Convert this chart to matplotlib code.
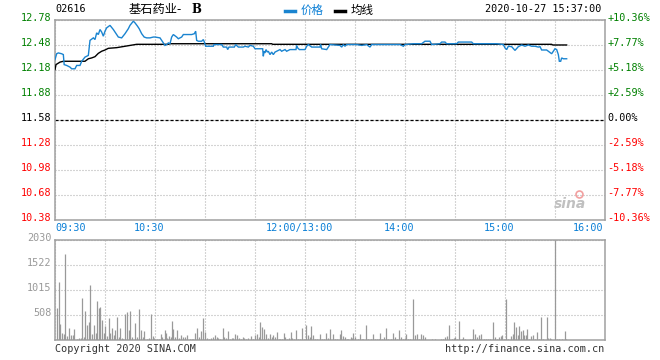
import matplotlib
matplotlib.use("Agg")
import matplotlib.pyplot as plt
import matplotlib.transforms as mtransforms
from matplotlib.lines import Line2D

plt.rcParams['lines.scale_dashes'] = False

# ---------------- data ----------------
stock_code = "02616"
stock_name = "基石药业-"
stock_suffix = "B"
timestamp = "2020-10-27 15:37:00"
legend_labels = ["价格", "均线"]

prev_close = 11.58
price_ticks = [10.38, 10.68, 10.98, 11.28, 11.58, 11.88, 12.18, 12.48, 12.78]
price_tick_labels = ["10.38", "10.68", "10.98", "11.28", "11.58", "11.88", "12.18", "12.48", "12.78"]
pct_tick_labels = ["-10.36%", "-7.77%", "-5.18%", "-2.59%", "0.00%", "+2.59%", "+5.18%", "+7.77%", "+10.36%"]

time_grid = [0, 30, 60, 90, 120, 150, 180, 210, 240, 270, 300, 330]
time_labels = ["09:30", "", "10:30", "", "", "12:00/13:00", "", "14:00", "", "15:00", "", "16:00"]

vol_ticks = [508, 1015, 1522, 2030]
vol_tick_labels = ["508", "1015", "1522", "2030"]

price_minutes = [0, 1, 2, 4, 5, 5.5, 7, 9, 10, 12, 13, 15, 16, 18, 20, 20.5, 21, 23, 24, 25, 26, 27, 28, 29,
                 30, 31, 33, 35, 37, 38, 40, 42, 44, 45, 47, 48, 49.5, 50.5, 52, 53.5, 55, 57, 59, 60, 63,
                 64, 65, 66, 67, 68, 69, 70, 71, 73, 74, 76, 77, 82, 83.6, 84.4, 85, 86, 88, 89, 89.6, 90.4,
                 95, 95.4, 100, 101, 103, 103.6, 104.4, 107.6, 108.4, 110, 113, 114, 116, 117, 119, 120,
                 124, 124.6, 125, 125.4, 126, 126.6, 127.4, 128, 129, 130, 131, 132, 133, 135, 136, 138,
                 139, 141, 144.6, 145, 145.6, 146.6, 150, 151, 152, 154, 159, 159.4, 160, 163, 164, 165,
                 171, 172, 173, 174, 175, 181, 184, 187, 189, 190, 207, 209, 210, 215, 220, 222, 225, 226,
                 231, 232, 234, 235, 241, 242, 250, 251, 265, 269, 270, 271, 272, 274, 276, 278, 280, 282,
                 284, 286, 288, 290, 291, 292, 295, 296, 298, 299, 300, 301, 302, 302.6, 303.4, 304, 305, 307]
price_values = [12.30, 12.37, 12.38, 12.37, 12.36, 12.24, 12.23, 12.21, 12.19, 12.19, 12.23, 12.23, 12.28,
                12.33, 12.35, 12.44, 12.53, 12.56, 12.54, 12.62, 12.60, 12.66, 12.63, 12.58, 12.64, 12.68,
                12.71, 12.66, 12.60, 12.57, 12.56, 12.61, 12.67, 12.71, 12.76, 12.74, 12.70, 12.67, 12.61,
                12.57, 12.56, 12.56, 12.57, 12.57, 12.56, 12.53, 12.50, 12.47, 12.48, 12.50, 12.49, 12.57,
                12.60, 12.57, 12.55, 12.57, 12.60, 12.60, 12.61, 12.64, 12.53, 12.52, 12.52, 12.54, 12.51,
                12.46, 12.46, 12.48, 12.48, 12.45, 12.45, 12.42, 12.45, 12.45, 12.48, 12.45, 12.45, 12.46,
                12.45, 12.47, 12.46, 12.43, 12.43, 12.43, 12.34, 12.40, 12.38, 12.42, 12.39, 12.40, 12.36,
                12.39, 12.36, 12.39, 12.40, 12.42, 12.40, 12.42, 12.40, 12.42, 12.42, 12.47, 12.44, 12.42,
                12.42, 12.46, 12.48, 12.45, 12.45, 12.48, 12.43, 12.42, 12.45, 12.48, 12.47, 12.45, 12.48,
                12.46, 12.48, 12.48, 12.47, 12.48, 12.45, 12.48, 12.48, 12.46, 12.48, 12.49, 12.49, 12.52,
                12.52, 12.48, 12.49, 12.51, 12.51, 12.49, 12.49, 12.51, 12.51, 12.49, 12.49, 12.48, 12.44,
                12.42, 12.46, 12.455, 12.41, 12.455, 12.475, 12.46, 12.475, 12.46, 12.46, 12.45, 12.455,
                12.415, 12.415, 12.40, 12.37, 12.40, 12.43, 12.42, 12.36, 12.28, 12.28, 12.32, 12.31, 12.31]

avg_minutes = [0, 0.6, 3, 5, 18, 20, 22, 24, 26, 28, 30, 32, 37, 43, 49, 68, 69, 130, 130.6, 298, 298.6, 307]
avg_values = [12.18, 12.24, 12.27, 12.28, 12.28, 12.31, 12.32, 12.335, 12.375, 12.40, 12.415, 12.435,
              12.443, 12.463, 12.483, 12.483, 12.49, 12.49, 12.483, 12.483, 12.475, 12.475]

vol_minutes = [1.4, 2.6, 3.2, 4.4, 5.4, 6.2, 7.4, 8.6, 9.4, 10.6, 11.6, 13.4, 14.6, 15.4, 16.4, 17.4, 18.2,
               19.4, 20.6, 21.2, 22.2, 23.4, 24.4, 25.4, 26.4, 27.0, 28.2, 29.4, 30.2, 31.4, 32.6, 33.0,
               34.2, 35.4, 36.2, 37.4, 38.2, 39.2, 40.2, 41.0, 42.2, 43.4, 44.6, 45.2, 46.4, 48.0, 49.0,
               50.6, 51.4, 52.6, 53.6, 55.4, 56.4, 57.4, 58.6, 59.4, 61.0, 62.2, 63.4, 64.4, 65.8, 66.4,
               67.4, 68.4, 69.4, 70.4, 71.0, 72.2, 73.4, 74.4, 75.4, 76.6, 77.8, 79.4, 81.0, 82.2, 83.0,
               84.2, 85.4, 86.6, 87.8, 89.0, 89.8, 91.0, 92.2, 93.8, 95.0, 96.0, 97.0, 97.8, 99.0, 100.6,
               101.4, 102.6, 103.8, 105.0, 106.0, 107.0, 108.2, 109.4, 110.6, 111.8, 112.6, 113.6, 114.6,
               115.8, 117.4, 119.0, 120.2, 121.4, 122.2, 123.2, 124.4, 125.4, 126.6, 127.8, 129.0, 130.0,
               131.0, 132.0, 133.0, 134.2, 135.0, 136.0, 137.2, 138.2, 139.0, 140.2, 141.4, 142.4, 143.4,
               144.6, 146.0, 147.0, 148.2, 149.4, 150.6, 152.0, 153.0, 153.8, 155.0, 156.2, 157.4, 159.0,
               160.2, 161.4, 162.6, 163.8, 165.0, 167.0, 168.0, 169.4, 171.0, 171.8, 173.0, 174.2, 175.0,
               176.0, 177.4, 178.2, 179.0, 180.0, 181.8, 183.0, 184.0, 185.0, 186.6, 188.0, 189.4, 191.0,
               192.2, 193.0, 194.2, 195.0, 196.2, 197.4, 198.8, 200.0, 201.4, 203.0, 204.2, 205.4, 206.4,
               207.4, 208.6, 209.8, 210.8, 212.0, 213.0, 215.0, 215.8, 217.0, 218.2, 219.8, 221.0, 221.8,
               226.0, 227.8, 231.8, 233.0, 234.2, 235.4, 236.6, 238.0, 239.4, 240.2, 241.2, 242.6, 244.0,
               245.0, 245.8, 249.0, 250.0, 251.0, 252.2, 253.4, 254.2, 255.0, 255.8, 257.4, 258.6, 259.8,
               261.0, 263.0, 264.2, 265.0, 266.2, 267.4, 268.2, 269.4, 270.6, 271.8, 273.4, 274.6, 275.6,
               276.6, 277.6, 278.6, 279.8, 280.6, 281.6, 282.6, 283.4, 284.6, 285.8, 286.6, 287.8, 289.0,
               290.2, 291.8, 293.0, 295.0, 296.0, 297.0, 297.8, 300.0, 301.0, 302.6, 304.2, 305.8, 306.6]
vol_values = [656, 1184, 325, 135, 122, 1746, 81, 244, 101, 101, 223, 14, 34, 47, 853, 68, 589,
              305, 365, 1117, 122, 298, 142, 792, 650, 670, 406, 135, 277, 81, 447, 149,
              244, 101, 203, 474, 68, 244, 41, 14, 528, 562, 203, 589, 54, 345, 54,
              629, 203, 68, 183, 27, 34, 528, 81, 34, 14, 27, 122, 54, 203, 135,
              34, 81, 54, 386, 223, 54, 210, 34, 95, 54, 68, 95, 20, 20, 27,
              135, 244, 68, 183, 447, 162, 41, 14, 34, 68, 108, 54, 34, 27, 244,
              54, 34, 189, 14, 34, 34, 122, 95, 41, 14, 68, 34, 27,
              41, 81, 14, 108, 122, 61, 372, 271, 217, 122, 34, 122, 68,
              95, 54, 156, 27, 27, 27, 135, 54, 27, 34, 169, 34, 27,
              203, 27, 27, 244, 27, 311, 108, 54, 277, 101, 27, 27, 122,
              14, 27, 135, 41, 217, 122, 27, 27, 115, 203, 81, 54, 27,
              27, 54, 34, 135, 54, 14, 122, 27, 27, 298, 14, 27, 122,
              27, 27, 27, 135, 27, 54, 244, 14, 27, 142, 54, 27, 196,
              54, 27, 41, 115, 27, 27, 832, 101, 115, 27, 115, 95, 54,
              14, 14, 14, 14, 54, 74, 298, 14, 34, 54, 27, 386, 27,
              54, 14, 14, 14, 223, 122, 54, 95, 27, 122, 14, 14, 14,
              14, 365, 54, 27, 68, 81, 108, 14, 832, 27, 81, 115, 365,
              271, 95, 277, 183, 203, 108, 95, 223, 27, 81, 108, 27, 162,
              27, 467, 27, 467, 41, 41, 27, 2030, 14, 14, 14, 183, 27]

# ---------------- styles ----------------
W, H = 660, 360
GRID = '#aaaaaa'
BORDER = '#a0a0a0'
GREEN = '#008000'
RED = '#ff0000'
BLUE_TXT = '#0a7fd6'
LINE_BLUE = '#1a84d0'
MONO = 'DejaVu Sans Mono'
CJK = ['Noto Sans CJK SC', 'DejaVu Sans']
dot = (0, (0.72, 1.44))

fig = plt.figure(figsize=(W / 100, H / 100), dpi=100)
fig.patch.set_facecolor('white')


def px_axes(left, top, right, bottom):
    return fig.add_axes([left / W, 1 - bottom / H, (right - left) / W, (bottom - top) / H])


ax = px_axes(55, 19.5, 605, 220)
axv = px_axes(55, 240, 605, 340)

for a in (ax, axv):
    a.set_xlim(0, 330)
    for s in a.spines.values():
        s.set_color(BORDER)
        s.set_linewidth(1.1)
    a.set_xticks(time_grid)
    a.tick_params(length=0)
    a.grid(True, color=GRID, linestyle=dot, linewidth=0.8)
    a.set_axisbelow(True)

# ---- price panel ----
ax.set_ylim(price_ticks[0], price_ticks[-1])
ax.set_yticks(price_ticks)
ax.set_yticklabels(price_tick_labels, fontfamily=MONO, fontsize=7.3)
ax.tick_params(axis='y', pad=2.5)
up = mtransforms.ScaledTranslation(0, 2 / 72 * 0.72 * 1.4, fig.dpi_scale_trans)
for v, lab in zip(price_ticks, ax.get_yticklabels()):
    lab.set_color(GREEN if v > prev_close else (RED if v < prev_close else 'black'))
    lab.set_transform(lab.get_transform() + up)

ax.set_xticklabels(time_labels, fontfamily=MONO, fontsize=7.3, color=BLUE_TXT)
ax.tick_params(axis='x', pad=2)
shift_l = mtransforms.ScaledTranslation(-6 / 100, 0, fig.dpi_scale_trans)
shift_r = mtransforms.ScaledTranslation(-2 / 100, 0, fig.dpi_scale_trans)
xl = ax.get_xticklabels()
for i, lab in enumerate(xl):
    if i == 0:
        lab.set_ha('left')
    elif i == len(xl) - 1:
        lab.set_ha('right')
        lab.set_transform(lab.get_transform() + shift_r)
    else:
        lab.set_transform(lab.get_transform() + shift_l)

ax.axhline(prev_close, color='black', linewidth=0.9, linestyle=(0, (2.2, 1.4)), zorder=2)

axr = ax.twinx()
axr.set_ylim(price_ticks[0], price_ticks[-1])
axr.set_yticks(price_ticks)
axr.set_yticklabels(pct_tick_labels, fontfamily=MONO, fontsize=7.3)
axr.tick_params(axis='y', length=0, pad=1.5)
for s in axr.spines.values():
    s.set_visible(False)
for v, lab in zip(price_ticks, axr.get_yticklabels()):
    lab.set_color(GREEN if v > prev_close else (RED if v < prev_close else 'black'))
    lab.set_transform(lab.get_transform() + up)

ax.plot(price_minutes, price_values, color=LINE_BLUE, linewidth=1.0, zorder=4, solid_joinstyle='miter')
ax.plot(avg_minutes, avg_values, color='black', linewidth=1.0, zorder=3)

# sina watermark
ax.text(0.965, 0.045, 'sina', transform=ax.transAxes, ha='right', va='bottom',
        fontsize=10, fontweight='bold', fontstyle='italic', color='#c0c0c0', family='DejaVu Sans')
ax.plot([0.952], [0.13], transform=ax.transAxes, marker='o', markersize=5,
        markerfacecolor='none', markeredgecolor='#f2a0a0', markeredgewidth=1.2, clip_on=False)

# ---- volume panel ----
axv.set_ylim(0, vol_ticks[-1])
axv.set_yticks(vol_ticks)
axv.set_yticklabels(vol_tick_labels, fontfamily=MONO, fontsize=7.3, color='#999999')
axv.tick_params(axis='y', pad=2.5)
for lab in axv.get_yticklabels():
    lab.set_transform(lab.get_transform() + up)
axv.set_xticklabels([])
axv.vlines(vol_minutes, 0, vol_values, color='#999999', linewidth=0.9, zorder=3)

# ---- header / footer ----
def ftext(x, y, s, **kw):
    fig.text(x / W, 1 - y / H, s, **kw)

ftext(55, 9, stock_code, fontfamily=MONO, fontsize=7.3, color='black', va='center')
ftext(129, 9.5, stock_name, family=CJK, fontsize=8.8, color='black', va='center')
ftext(191, 9.5, stock_suffix, family='DejaVu Serif', fontweight='bold', fontsize=8.5, color='black', va='center')

fig.add_artist(Line2D([285 / W, 295 / W], [1 - 11 / H, 1 - 11 / H], color=LINE_BLUE, linewidth=2.5,
                      transform=fig.transFigure))
ftext(301, 10, legend_labels[0], family=CJK, fontsize=8.3, color=BLUE_TXT, va='center')
fig.add_artist(Line2D([335 / W, 345 / W], [1 - 11 / H, 1 - 11 / H], color='black', linewidth=2.5,
                      transform=fig.transFigure))
ftext(351, 10, legend_labels[1], family=CJK, fontsize=8.3, color='black', va='center')
ftext(601, 9, timestamp, fontfamily=MONO, fontsize=7.3, color='black', va='center', ha='right')

ftext(55, 349.5, "Copyright 2020 SINA.COM", fontfamily=MONO, fontsize=7.3, color='#333333', va='center')
ftext(604, 349.5, "http://finance.sina.com.cn", fontfamily=MONO, fontsize=7.3, color='#333333',
      va='center', ha='right')

fig.savefig('out.png', dpi=100, facecolor='white')
